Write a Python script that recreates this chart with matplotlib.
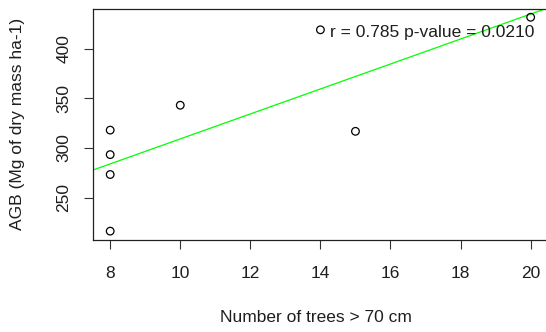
import matplotlib
matplotlib.use("Agg")
import matplotlib.pyplot as plt
import numpy as np

plt.rcParams["font.family"] = ["Liberation Sans", "DejaVu Sans"]

# plot-level data: large trees per plot vs. above-ground biomass
n_trees = [8, 8, 8, 8, 10, 14, 15, 20]
agb = [216.5, 318.0, 293.4, 273.4, 343.0, 418.8, 316.8, 431.4]
r_value = 0.785
p_value = 0.0210

xticks = [8, 10, 12, 14, 16, 18, 20]
yticks = [250, 300, 350, 400]

txt = "#1e1e1e"
fs = 12.5

fig = plt.figure(figsize=(5.46, 3.32), dpi=100)
ax = fig.add_axes([0.171, 0.278, 0.8317, 0.6958])

ax.scatter(n_trees, agb, s=30, facecolors="none", edgecolors="black", linewidths=0.9, zorder=3)

# least-squares line across the full plot width
slope, intercept = np.polyfit(n_trees, agb, 1)
xlim = (7.52, 20.48)
xs = np.array(xlim)
ax.plot(xs, intercept + slope * xs, color="#00ff00", lw=0.9, zorder=2)

ax.text(17.18, 416, f"r = {r_value:.3f} p-value = {p_value:.4f}",
        ha="center", va="center", fontsize=fs, color=txt)

ax.set_xlim(*xlim)
ax.set_ylim(207.9, 440.0)
ax.set_xticks(xticks)
ax.set_yticks(yticks)
ax.set_yticklabels([str(v) for v in yticks], rotation=90, va="center")
ax.tick_params(length=6.7, width=0.8, labelsize=fs, colors="#333333", labelcolor=txt)
ax.tick_params(axis="x", pad=12)
ax.tick_params(axis="y", pad=9)
for s in ax.spines.values():
    s.set_linewidth(0.9)
    s.set_color("#222222")

ax.set_xlabel("Number of trees > 70 cm", fontsize=fs, color=txt)
ax.set_ylabel("AGB (Mg of dry mass ha-1)", fontsize=fs, color=txt)
ax.xaxis.set_label_coords(0.490, -0.335)
ax.xaxis.label.set_va("center")
ax.yaxis.set_label_coords(-0.166, 0.5)
ax.yaxis.label.set_va("center")

fig.savefig("out.png", dpi=100)
plt.close()
